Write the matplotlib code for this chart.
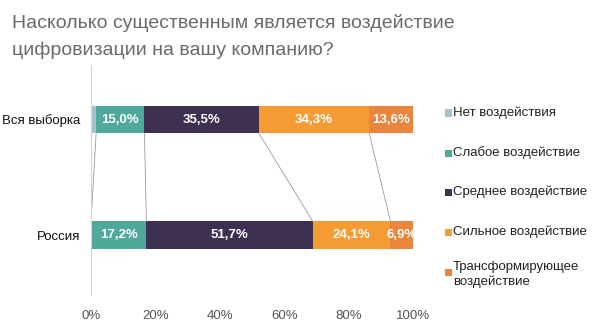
import matplotlib
matplotlib.use("Agg")
import matplotlib.pyplot as plt
from matplotlib.patches import Rectangle
import numpy as np

plt.rcParams['font.family'] = ['Liberation Sans', 'DejaVu Sans']

title_lines = ["Насколько существенным является воздействие",
               "цифровизации на вашу компанию?"]
groups = ["Вся выборка", "Россия"]
categories = ["Нет воздействия", "Слабое воздействие", "Среднее воздействие",
              "Сильное воздействие", "Трансформирующее\nвоздействие"]
values_all = [1.6, 15.0, 35.5, 34.3, 13.6]
values_ru = [0.0, 17.2, 51.7, 24.1, 6.9]
colors = ["#a9bfcd", "#4fa99b", "#3d3050", "#f49b34", "#e9853d"]
xticks = [0, 20, 40, 60, 80, 100]

fig = plt.figure(figsize=(6.03, 3.30), dpi=100)
ax = fig.add_axes([91 / 603, 1 - 295 / 330, 322 / 603, 230 / 330])

ypos = {"Вся выборка": 1.0, "Россия": 0.0}
bar_h = 0.235
series = {"Вся выборка": values_all, "Россия": values_ru}

cums = {}
for g in groups:
    vals = np.array(series[g])
    left = np.concatenate([[0], np.cumsum(vals)[:-1]])
    cums[g] = np.cumsum(vals)
    ax.barh(ypos[g], vals, left=left, height=bar_h, color=colors, edgecolor='none')
    for v, l in zip(vals, left):
        if v >= 5:
            ax.text(l + v / 2, ypos[g], f"{v:.1f}%".replace('.', ','),
                    ha='center', va='center', color='white', fontsize=9.5,
                    fontweight='bold', clip_on=True)

# connector lines between matching segment boundaries
for k in range(4):
    ax.plot([cums["Вся выборка"][k], cums["Россия"][k]],
            [ypos["Вся выборка"] - bar_h / 2, ypos["Россия"] + bar_h / 2],
            color="#9a9a9a", lw=0.6)

ax.set_xlim(0, 100)
ax.set_ylim(-0.519, 1.472)
ax.set_xticks(xticks)
ax.set_xticklabels([f"{t}%" for t in xticks], color="#555555", fontsize=9.5)
ax.set_yticks([ypos[g] for g in groups])
ax.set_yticklabels(groups, fontsize=9.5, color="#111111")
ax.tick_params(axis='both', length=0)
ax.tick_params(axis='x', pad=11)
ax.tick_params(axis='y', pad=8)
for s in ['top', 'right', 'bottom']:
    ax.spines[s].set_visible(False)
ax.spines['left'].set_color("#d4d4d4")
ax.spines['left'].set_linewidth(0.8)

for line, base in zip(title_lines, [28, 55]):
    fig.text(12 / 603, 1 - base / 330, line, ha='left', va='baseline',
             fontsize=14, color="#6a6a6a")

# legend
leg_y = [113, 153, 192, 232, 261]
sq_y = [113, 153, 192, 232, 272]
for cat, c, ty, sy in zip(categories, colors, leg_y, sq_y):
    fig.add_artist(Rectangle((445 / 603, 1 - (sy + 3.5) / 330), 7 / 603, 7 / 330,
                             transform=fig.transFigure, facecolor=c, edgecolor='none'))
    fig.text(453 / 603, 1 - ty / 330, cat, ha='left', va='top' if '\n' in cat else 'center',
             fontsize=9.5, color="#222222", linespacing=1.3)

fig.savefig("out.png", dpi=100)
